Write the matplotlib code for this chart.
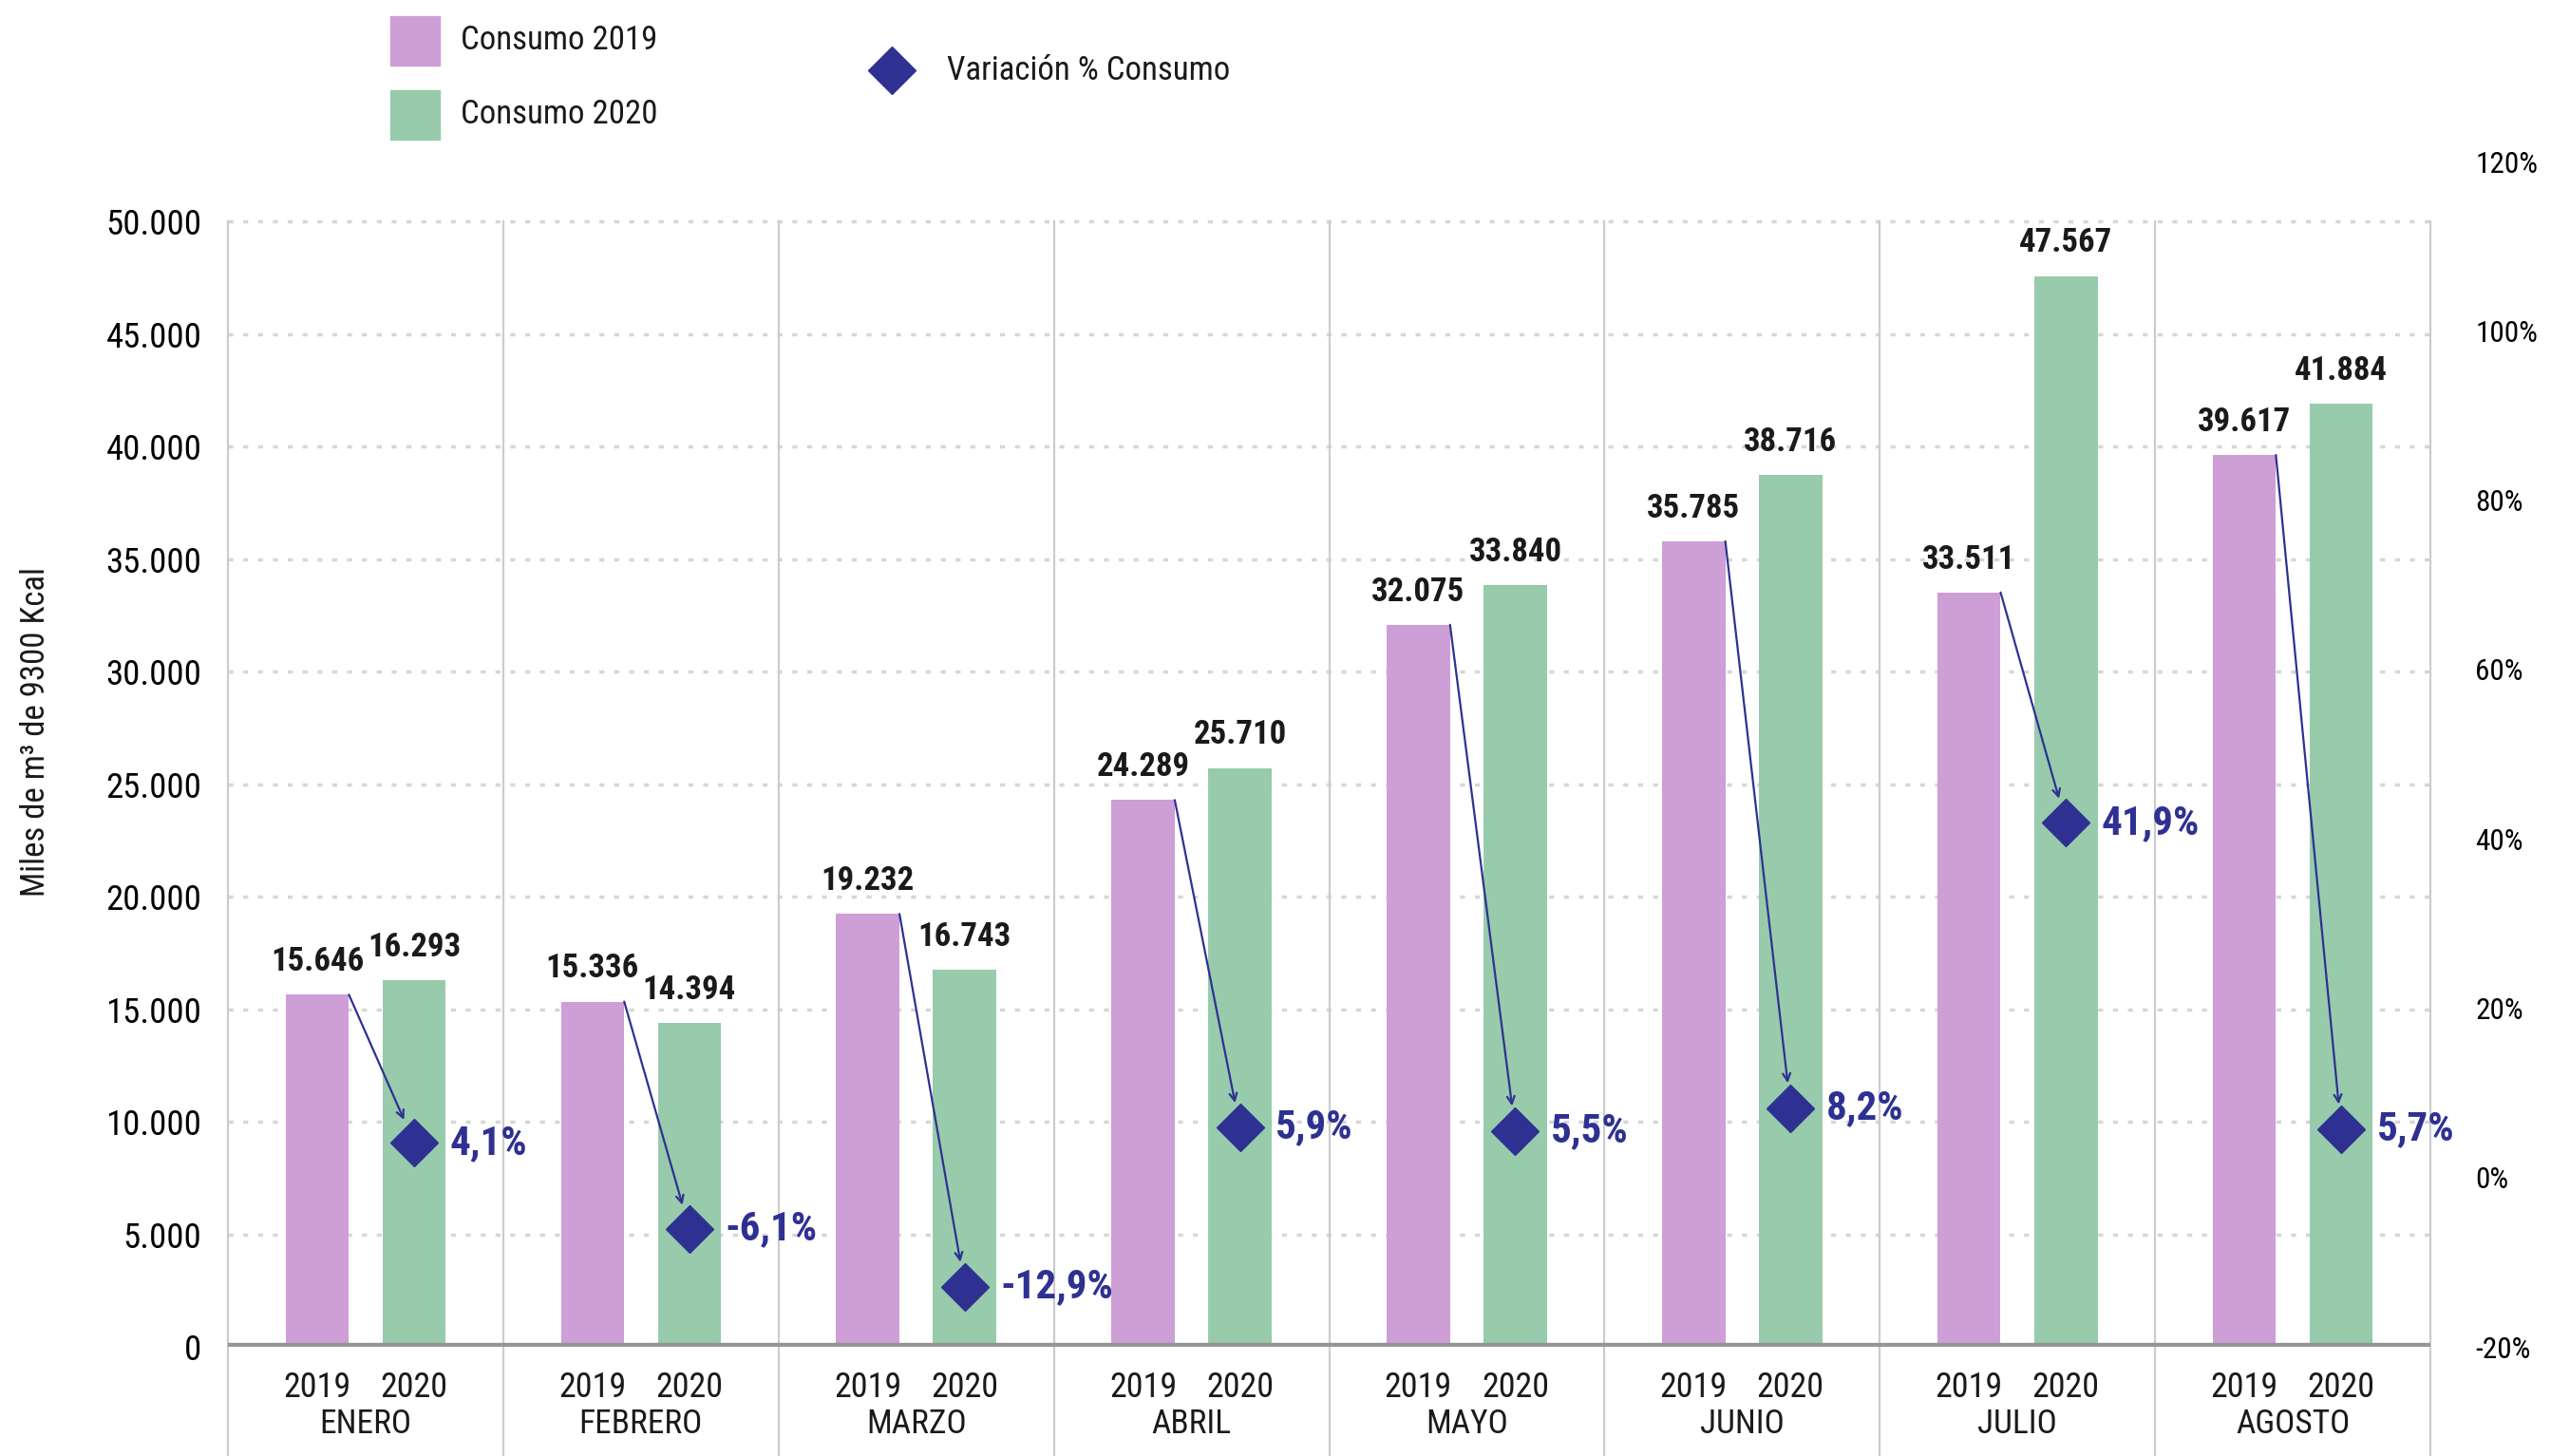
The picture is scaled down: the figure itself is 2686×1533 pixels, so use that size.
import matplotlib.pyplot as plt
from matplotlib.patches import Rectangle
from matplotlib.lines import Line2D

# Datos del grafico
meses = ['ENERO', 'FEBRERO', 'MARZO', 'ABRIL', 'MAYO', 'JUNIO', 'JULIO', 'AGOSTO']
anios = ['2019', '2020']
consumo_2019 = [15646, 15336, 19232, 24289, 32075, 35785, 33511, 39617]
consumo_2020 = [16293, 14394, 16743, 25710, 33840, 38716, 47567, 41884]
variacion = [4.1, -6.1, -12.9, 5.9, 5.5, 8.2, 41.9, 5.7]

ticks_izq = list(range(0, 50001, 5000))
ticks_der = list(range(-20, 121, 20))

# Colores
rosa = '#CE9ED6'
verde = '#97CBAB'
azul = '#2E3192'
gris_eje = '#939598'
gris_sep = '#CCCCCC'
gris_grid = '#D6D6D6'

plt.rcParams['font.family'] = ['Roboto Condensed', 'Roboto', 'DejaVu Sans']
plt.rcParams['text.color'] = '#1A1A1A'


def miles(v):
    return f'{v:,.0f}'.replace(',', '.')


def pct(v):
    return f'{v:.1f}%'.replace('.', ',')


fig = plt.figure(figsize=(26.86, 15.33), dpi=100)
ax = fig.add_axes([0.0894, 0.0750, 0.8633, 0.8141])
ax2 = ax.twinx()

ymax = 52658
ax.set_ylim(0, ymax)
ax.set_xlim(-0.5, len(meses) - 0.5)
ax2.set_ylim(-20, 120)

off = 0.176
ancho = 0.23
x19 = [i - off for i in range(len(meses))]
x20 = [i + off for i in range(len(meses))]

# Barras
ax.bar(x19, consumo_2019, width=ancho, color=rosa, zorder=2)
ax.bar(x20, consumo_2020, width=ancho, color=verde, zorder=2)
ax.axhline(0, color=gris_eje, lw=6, zorder=3)

# Rejilla punteada
ax.set_axisbelow(True)
ax.yaxis.grid(True, color=gris_grid, linestyle=(0, (1.5, 3)), lw=2.5)

# Separadores verticales entre meses
for i in range(len(meses) + 1):
    ax.plot([i - 0.5, i - 0.5], [-0.1, 50000 / ymax], transform=ax.get_xaxis_transform(),
            color=gris_sep, lw=1.6, clip_on=False, zorder=1)

# Ejes
for s in list(ax.spines.values()) + list(ax2.spines.values()):
    s.set_visible(False)
ax.set_xticks([])
ax.set_yticks(ticks_izq)
ax.set_yticklabels([miles(t) for t in ticks_izq])
ax.tick_params(axis='y', length=0, pad=20, labelsize=26.5)
ax2.set_yticks(ticks_der)
ax2.set_yticklabels([f'{t}%' for t in ticks_der])
ax2.tick_params(axis='y', length=0, pad=34, labelsize=22.5)

# Etiquetas bajo el eje
tr = ax.get_xaxis_transform()
for i, mes in enumerate(meses):
    ax.text(x19[i], -0.0345, anios[0], transform=tr, ha='center', va='center', fontsize=26)
    ax.text(x20[i], -0.0345, anios[1], transform=tr, ha='center', va='center', fontsize=26)
    ax.text(i, -0.065, mes, transform=tr, ha='center', va='center', fontsize=25.5)

# Valores sobre las barras
for i in range(len(meses)):
    ax.annotate(miles(consumo_2019[i]), (x19[i], consumo_2019[i]), xytext=(0, 25),
                textcoords='offset points', ha='center', va='center',
                fontsize=25, fontweight='bold')
    ax.annotate(miles(consumo_2020[i]), (x20[i], consumo_2020[i]), xytext=(0, 25),
                textcoords='offset points', ha='center', va='center',
                fontsize=25, fontweight='bold')

# Variacion porcentual
ax2.plot(x20, variacion, linestyle='none', marker='D', ms=25, color=azul, zorder=5)
for i, v in enumerate(variacion):
    ax2.annotate('', xy=(x20[i], v), xycoords='data',
                 xytext=(x19[i] + ancho / 2, consumo_2019[i]), textcoords=ax.transData,
                 arrowprops=dict(arrowstyle='->', color=azul, lw=1.6, shrinkA=0, shrinkB=19,
                                 mutation_scale=14))
    ax2.annotate(pct(v), (x20[i], v), xytext=(27, 0), textcoords='offset points',
                 ha='left', va='center', fontsize=31, fontweight='bold', color=azul)

# Leyenda manual
fig.add_artist(Rectangle((411 / 2686, 1 - 69 / 1533), 52 / 2686, 52 / 1533,
                         transform=fig.transFigure, color=rosa))
fig.add_artist(Rectangle((411 / 2686, 1 - 147 / 1533), 52 / 2686, 52 / 1533,
                         transform=fig.transFigure, color=verde))
fig.text(485 / 2686, 1 - 43 / 1533, 'Consumo 2019', ha='left', va='center', fontsize=25)
fig.text(485 / 2686, 1 - 120 / 1533, 'Consumo 2020', ha='left', va='center', fontsize=25)
fig.add_artist(Line2D([939 / 2686], [1 - 74 / 1533], marker='D', ms=25, color=azul,
                      transform=fig.transFigure))
fig.text(997 / 2686, 1 - 74 / 1533, 'Variación % Consumo', ha='left', va='center', fontsize=25)

fig.text(38 / 2686, 1 - 771 / 1533, 'Miles de m³ de 9300 Kcal', rotation=90,
         ha='center', va='center', fontsize=25)

fig.savefig('out.png', dpi=100)
